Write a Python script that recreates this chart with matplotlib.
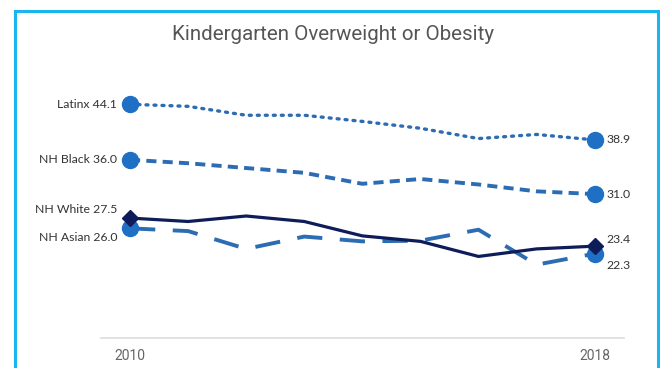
import matplotlib.pyplot as plt
from matplotlib.patches import Rectangle

years = [2010, 2011, 2012, 2013, 2014, 2015, 2016, 2017, 2018]
latinx = [44.1, 43.8, 42.5, 42.5, 41.6, 40.6, 39.1, 39.7, 38.9]
black = [36.0, 35.5, 34.8, 34.1, 32.5, 33.2, 32.4, 31.4, 31.0]
white = [27.5, 27.0, 27.8, 27.0, 24.9, 24.1, 21.9, 23.0, 23.4]
asian = [26.0, 25.6, 23.0, 24.8, 24.1, 24.2, 25.8, 20.7, 22.3]
names = ["Latinx", "NH Black", "NH White", "NH Asian"]

blue = "#1f6fc4"
line_blue = "#2b6cb3"
navy = "#0e1d5a"

fig = plt.figure(figsize=(6.6, 3.68), dpi=100)
ax = fig.add_axes([0.153, 0.0815, 0.792, 0.745])

# series lines
ax.plot(years, latinx, color=line_blue, lw=2.4, linestyle=(0, (0.6, 1.8)),
        dash_capstyle="round")
ax.plot(years, black, color=line_blue, lw=2.8, linestyle=(0, (2.6, 1.6)))
ax.plot(years, asian, color=line_blue, lw=2.8, linestyle=(0, (6.5, 4.5)))
ax.plot(years, white, color=navy, lw=2.3)

# end markers
for vals in (latinx, black, asian):
    ax.plot([years[0], years[-1]], [vals[0], vals[-1]], "o", color=blue,
            markersize=11.5, zorder=5)
ax.plot([years[0], years[-1]], [white[0], white[-1]], "D", color=navy,
        markersize=8, zorder=6)

# labels
lab_font = dict(family=["Lato", "DejaVu Sans"], size=8.8, color="#333333")
left_off = {"Latinx": 0, "NH Black": 0, "NH White": 1.2, "NH Asian": -1.3}
right_off = {"Latinx": 0, "NH Black": 0, "NH White": 1.0, "NH Asian": -1.7}
for name, vals in zip(names, [latinx, black, white, asian]):
    ax.text(years[0] - 0.22, vals[0] + left_off[name], f"{name} {vals[0]:.1f}",
            ha="right", va="center", **lab_font)
    ax.text(years[-1] + 0.2, vals[-1] + right_off[name], f"{vals[-1]:.1f}",
            ha="left", va="center", **lab_font)

ax.set_xlim(2009.5, 2018.5)
ax.set_ylim(10, 50)
for s in ("top", "right", "left"):
    ax.spines[s].set_visible(False)
ax.spines["bottom"].set_color("#dddddd")
ax.spines["bottom"].set_linewidth(1.2)
ax.set_yticks([])
ax.set_xticks([2010, 2018])
ax.set_xticklabels(["2010", "2018"], family="Roboto", fontsize=10,
                   color="#666666")
ax.tick_params(axis="x", length=0, pad=8)

fig.text(0.505, 0.905, "Kindergarten Overweight or Obesity",
         ha="center", va="center", family="Roboto", fontsize=14.8,
         color="#555555")

# frame around the card
fig.patches.append(Rectangle((15 / 660, -0.05), 643 / 660, 1.05 - 11 / 368,
                             transform=fig.transFigure, fill=False,
                             edgecolor="#19b5ee", lw=2.2))

fig.savefig("out.png", dpi=100)
